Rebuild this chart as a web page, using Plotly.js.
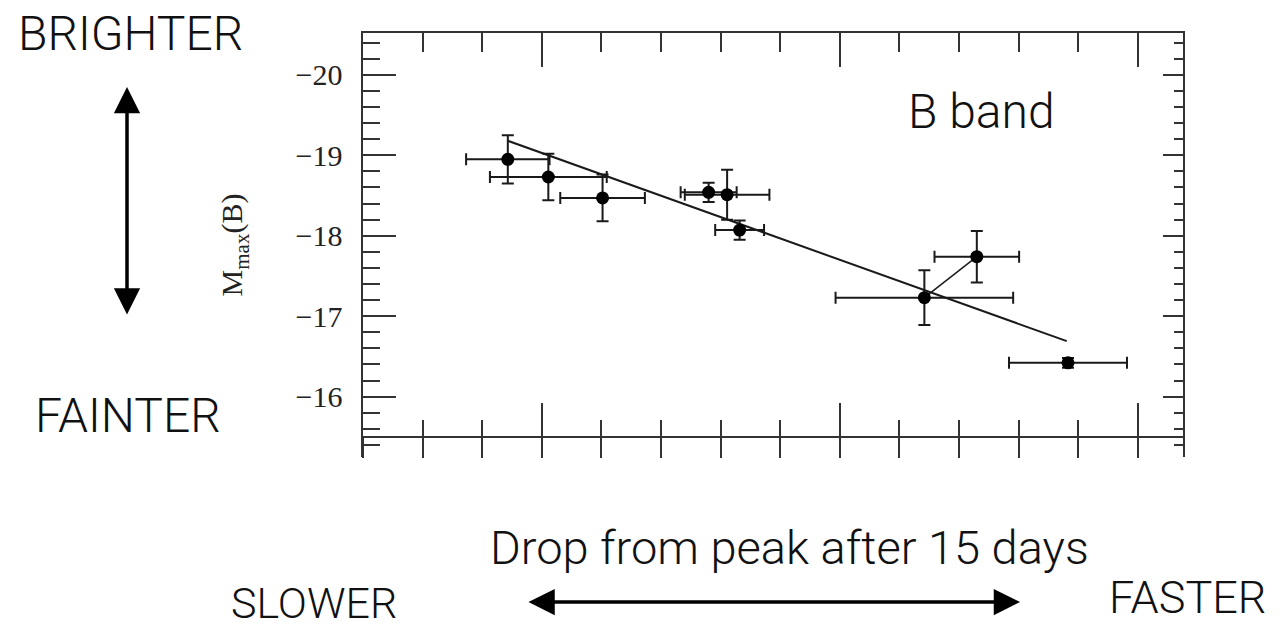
<!DOCTYPE html>
<html>
<head>
<meta charset="utf-8">
<script src="https://cdn.plot.ly/plotly-3.0.1.min.js"></script>
<style>
html,body{margin:0;padding:0;background:#fff;}
#chart{width:1282px;height:627px;}
</style>
</head>
<body>
<div id="chart"></div>
<script>
// Decline rate (drop in B mag 15 days after peak) and peak absolute B magnitude
const dm15 = [0.943, 1.011, 1.102, 1.280, 1.311, 1.332, 1.642, 1.730, 1.883];
const dm15Err = [0.070, 0.098, 0.071, 0.047, 0.071, 0.041, 0.149, 0.071, 0.099];
const mMaxB = [-18.95, -18.73, -18.47, -18.54, -18.51, -18.07, -17.23, -17.74, -16.42];
const mMaxBErr = [0.30, 0.29, 0.29, 0.12, 0.31, 0.12, 0.34, 0.32, 0.06];
// fitted linear relation endpoints
const fitX = [0.943, 1.881];
const fitY = [-19.18, -16.69];
// pair of points joined by a segment
const joined = [6, 7];
const yTicks = [-20, -19, -18, -17, -16];

const ink = '#1a1a1a';
const axisInk = '#333';
function tf(size) {
  return {family: 'Roboto, "Liberation Sans", sans-serif', size: size, color: '#111', weight: 300};
}

const traces = [
  {
    x: fitX, y: fitY, mode: 'lines', type: 'scatter',
    line: {color: ink, width: 2}, showlegend: false, hoverinfo: 'skip'
  },
  {
    x: joined.map(i => dm15[i]), y: joined.map(i => mMaxB[i]),
    mode: 'lines', type: 'scatter',
    line: {color: ink, width: 1.5}, showlegend: false, hoverinfo: 'skip'
  },
  {
    x: dm15, y: mMaxB, mode: 'markers', type: 'scatter',
    marker: {color: '#000', size: 13},
    error_x: {type: 'data', array: dm15Err, visible: true, color: ink, thickness: 2, width: 6},
    error_y: {type: 'data', array: mMaxBErr, visible: true, color: ink, thickness: 2, width: 6},
    showlegend: false
  },
  {x: [], y: [], xaxis: 'x2', yaxis: 'y', type: 'scatter', showlegend: false},
  {x: [], y: [], xaxis: 'x3', yaxis: 'y', type: 'scatter', showlegend: false},
  {x: [], y: [], xaxis: 'x', yaxis: 'y2', type: 'scatter', showlegend: false}
];

const xRange = [0.7, 2.076];
const yRange = [-15.25, -20.52];
const axPos = 0.0472;

function xMinor(len, dir) {
  return {dtick: 0.1, tick0: 0, ticks: dir, ticklen: len, tickwidth: 2, tickcolor: axisInk, showgrid: false};
}
function yMinor(len) {
  return {dtick: 0.2, tick0: 0, ticks: 'inside', ticklen: len, tickwidth: 2, tickcolor: axisInk, showgrid: false};
}
const arrowStyle = {
  showarrow: true, arrowhead: 2, startarrowhead: 2, arrowside: 'end+start',
  arrowwidth: 3.5, arrowsize: 1.5, startarrowsize: 1.5, arrowcolor: '#000',
  standoff: 0, startstandoff: 0, axref: 'pixel', ayref: 'pixel', xref: 'paper', yref: 'paper', text: ''
};

const layout = {
  width: 1282, height: 627,
  margin: {l: 363, r: 99, t: 33, b: 170, pad: 0},
  paper_bgcolor: '#fff', plot_bgcolor: '#fff',
  showlegend: false,
  xaxis: {
    range: xRange, anchor: 'free', position: axPos,
    showline: true, linecolor: axisInk, linewidth: 2,
    ticks: 'inside', ticklen: 33, tickwidth: 2, tickcolor: axisInk,
    dtick: 0.5, tick0: 0, showticklabels: false, showgrid: false, zeroline: false,
    minor: xMinor(16, 'inside')
  },
  xaxis2: {
    range: xRange, anchor: 'free', position: axPos, overlaying: 'x',
    showline: false, ticks: 'outside', ticklen: 20, tickwidth: 2, tickcolor: axisInk,
    dtick: 0.5, tick0: 0, showticklabels: false, showgrid: false, zeroline: false,
    minor: xMinor(20, 'outside')
  },
  xaxis3: {
    range: xRange, anchor: 'y', side: 'top', overlaying: 'x',
    showline: true, linecolor: axisInk, linewidth: 2,
    ticks: 'inside', ticklen: 34, tickwidth: 2, tickcolor: axisInk,
    dtick: 0.5, tick0: 0, showticklabels: false, showgrid: false, zeroline: false,
    minor: xMinor(19, 'inside')
  },
  yaxis: {
    range: yRange, anchor: 'x',
    showline: true, linecolor: axisInk, linewidth: 2.5,
    ticks: 'inside', ticklen: 33, tickwidth: 2, tickcolor: axisInk,
    tickmode: 'array', tickvals: yTicks,
    ticktext: yTicks.map(v => '\u2212' + Math.abs(v)),
    tickfont: {family: '"Liberation Serif", serif', size: 30, color: '#222'},
    ticklabelstandoff: 12,
    showgrid: false, zeroline: false,
    minor: yMinor(17),
    title: {
      text: 'M<sub>max</sub>(B)',
      font: {family: '"Liberation Serif", serif', size: 30, color: '#222'},
      standoff: 44
    }
  },
  yaxis2: {
    range: yRange, anchor: 'x', side: 'right', overlaying: 'y',
    showline: true, linecolor: axisInk, linewidth: 2,
    ticks: 'inside', ticklen: 20, tickwidth: 2, tickcolor: axisInk,
    dtick: 1, tick0: 0, showticklabels: false, showgrid: false, zeroline: false,
    minor: yMinor(9)
  },
  annotations: [
    {text: 'BRIGHTER', xref: 'paper', yref: 'paper', x: -0.2841, y: 1.0, showarrow: false, xanchor: 'center', yanchor: 'middle', font: tf(48)},
    {text: 'FAINTER', xref: 'paper', yref: 'paper', x: -0.2866, y: 0.099, showarrow: false, xanchor: 'center', yanchor: 'middle', font: tf(48)},
    {text: 'B band', xref: 'paper', yref: 'paper', x: 0.7537, y: 0.8137, showarrow: false, xanchor: 'center', yanchor: 'middle', font: tf(48)},
    {text: 'Drop from peak after 15 days', xref: 'paper', yref: 'paper', x: 0.5207, y: -0.2146, showarrow: false, xanchor: 'center', yanchor: 'middle', font: tf(47)},
    {text: 'SLOWER', xref: 'paper', yref: 'paper', x: -0.0598, y: -0.3443, showarrow: false, xanchor: 'center', yanchor: 'middle', font: tf(43)},
    {text: 'FASTER', xref: 'paper', yref: 'paper', x: 1.006, y: -0.3325, showarrow: false, xanchor: 'center', yanchor: 'middle', font: tf(45)},
    Object.assign({x: -0.2878, y: 0.8726, ax: 0, ay: 229}, arrowStyle),
    Object.assign({x: 0.8012, y: -0.342, ax: -493, ay: 0}, arrowStyle)
  ]
};

Plotly.newPlot('chart', traces, layout, {displayModeBar: false, staticPlot: true});
</script>
</body>
</html>
